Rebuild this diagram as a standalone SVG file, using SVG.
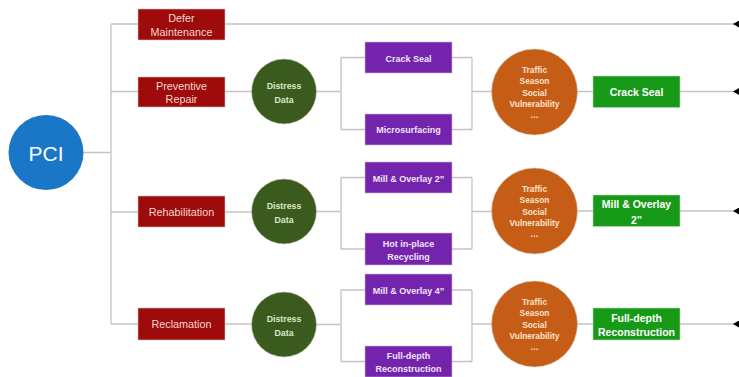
<svg xmlns="http://www.w3.org/2000/svg" width="739" height="377" viewBox="0 0 739 377">
<style>
text{font-family:"Liberation Sans","Noto Sans",Arial,sans-serif;text-anchor:middle}
.ln{stroke:#c3c3c3;stroke-width:1.3;fill:none}
.red rect{fill:#9e0b0b;stroke:#d8c0c0;stroke-width:0.6}
.red text{fill:#f3d8cf;font-size:10.8px}
.dd circle{fill:#3b5a1e;stroke:#c8d0c0;stroke-width:0.6}
.dd text{fill:#d9e9c9;font-size:8.8px;font-weight:bold}
.pur rect{fill:#7424ac;stroke:#c8b8d8;stroke-width:0.6}
.pur text{fill:#f0e4f8;font-size:9px;font-weight:bold}
.org circle{fill:#c65d17;stroke:#d8c8c0;stroke-width:0.6}
.org text{fill:#fbe2cc;font-size:8.4px;font-weight:bold}
.grn rect{fill:#179a18;stroke:#c0d8c0;stroke-width:0.6}
.grn text{fill:#ffffff;font-size:10.5px;font-weight:bold}
</style>
<defs>
<marker id="ah" markerUnits="userSpaceOnUse" markerWidth="7" markerHeight="8" refX="6" refY="3.5" orient="auto">
<path d="M0,3.5 L6,0 L6,7 z" fill="#000"/>
</marker>
</defs>
<g id="connectors">
<path class="ln" d="M83.5,152.5 H111 M111,24 V324 M111,24 H138 M111,91.5 H138 M111,212 H138 M111,324 H138"/>
<path class="ln" d="M225,24 H739" marker-end="url(#ah)"/>
<path class="ln" d="M225,91.5 H251.5 M316.5,91.5 H341 M341,57.5 V129.5 M341,57.5 H365 M341,129.5 H365 M452,57.5 H472 M452,129.5 H472 M472,57.5 V129.5 M472,91.5 H491.5 M577.5,91.5 H593"/>
<path class="ln" d="M680,91.5 H739" marker-end="url(#ah)"/>
<path class="ln" d="M225,212 H251.5 M316.5,211.5 H341 M341,177.5 V249 M341,177.5 H365 M341,249 H365 M452,177.5 H472 M452,249 H472 M472,177.5 V249 M472,211.5 H491.5 M577.5,211 H593"/>
<path class="ln" d="M680,211 H739" marker-end="url(#ah)"/>
<path class="ln" d="M225,324 H251.5 M316.5,324.5 H341 M341,290 V361.5 M341,290 H365 M341,361.5 H365 M452,290 H472 M452,361.5 H472 M472,290 V361.5 M472,324 H491.5 M577.5,324 H593"/>
<path class="ln" d="M680,324 H739" marker-end="url(#ah)"/>
</g>
<g id="pci">
<circle cx="46" cy="152.5" r="37.5" fill="#1a76c6"/>
<text x="46" y="160.5" fill="#ffffff" style="font-size:21px">PCI</text>
</g>
<g id="defer" class="red"><rect x="138" y="9" width="87" height="31"/><text x="181.5" y="22">Defer</text><text x="181.5" y="36">Maintenance</text></g>
<g id="preventive" class="red"><rect x="138" y="77" width="87" height="30"/><text x="181.5" y="89.5">Preventive</text><text x="181.5" y="103">Repair</text></g>
<g id="rehab" class="red"><rect x="138" y="196" width="87" height="31"/><text x="181.5" y="215.5">Rehabilitation</text></g>
<g id="reclamation" class="red"><rect x="138" y="308" width="87" height="32"/><text x="181.5" y="328">Reclamation</text></g>
<g id="dd1" class="dd"><circle cx="284" cy="91.5" r="32.5"/><text x="284" y="89">Distress</text><text x="284" y="103.2">Data</text></g>
<g id="dd2" class="dd"><circle cx="284" cy="211.5" r="32.5"/><text x="284" y="209">Distress</text><text x="284" y="223.2">Data</text></g>
<g id="dd3" class="dd"><circle cx="284" cy="324.5" r="32.5"/><text x="284" y="322">Distress</text><text x="284" y="336.2">Data</text></g>
<g id="p1a" class="pur"><rect x="365" y="42" width="87" height="31"/><text x="408.5" y="61.5">Crack Seal</text></g>
<g id="p1b" class="pur"><rect x="365" y="114" width="87" height="31"/><text x="408.5" y="133.3">Microsurfacing</text></g>
<g id="p2a" class="pur"><rect x="365" y="162" width="87" height="31"/><text x="408.5" y="181.5">Mill &amp; Overlay 2&#8221;</text></g>
<g id="p2b" class="pur"><rect x="365" y="233" width="87" height="32"/><text x="408.5" y="246.5">Hot in-place</text><text x="408.5" y="259.5">Recycling</text></g>
<g id="p3a" class="pur"><rect x="365" y="274" width="87" height="31"/><text x="408.5" y="294">Mill &amp; Overlay 4&#8221;</text></g>
<g id="p3b" class="pur"><rect x="365" y="346" width="87" height="31"/><text x="408.5" y="359.3">Full-depth</text><text x="408.5" y="371.6">Reconstruction</text></g>
<g id="o1" class="org"><circle cx="534.5" cy="92" r="43"/><text x="534.5" y="72.5">Traffic</text><text x="534.5" y="84">Season</text><text x="534.5" y="95.5">Social</text><text x="534.5" y="106.7">Vulnerability</text><text x="534.5" y="117.5">…</text></g>
<g id="o2" class="org"><circle cx="534.5" cy="211" r="43"/><text x="534.5" y="191.5">Traffic</text><text x="534.5" y="203">Season</text><text x="534.5" y="214.5">Social</text><text x="534.5" y="225.7">Vulnerability</text><text x="534.5" y="236.5">…</text></g>
<g id="o3" class="org"><circle cx="534.5" cy="324" r="43"/><text x="534.5" y="304.5">Traffic</text><text x="534.5" y="316">Season</text><text x="534.5" y="327.5">Social</text><text x="534.5" y="338.7">Vulnerability</text><text x="534.5" y="349.5">…</text></g>
<g id="g1" class="grn"><rect x="593" y="76" width="87" height="31.5"/><text x="636.5" y="96">Crack Seal</text></g>
<g id="g2" class="grn"><rect x="593" y="195" width="87" height="31.5"/><text x="636.5" y="208">Mill &amp; Overlay</text><text x="636.5" y="223.8">2&#8221;</text></g>
<g id="g3" class="grn"><rect x="593" y="308" width="87" height="32"/><text x="636.5" y="321.5">Full-depth</text><text x="636.5" y="335.5">Reconstruction</text></g>
</svg>
